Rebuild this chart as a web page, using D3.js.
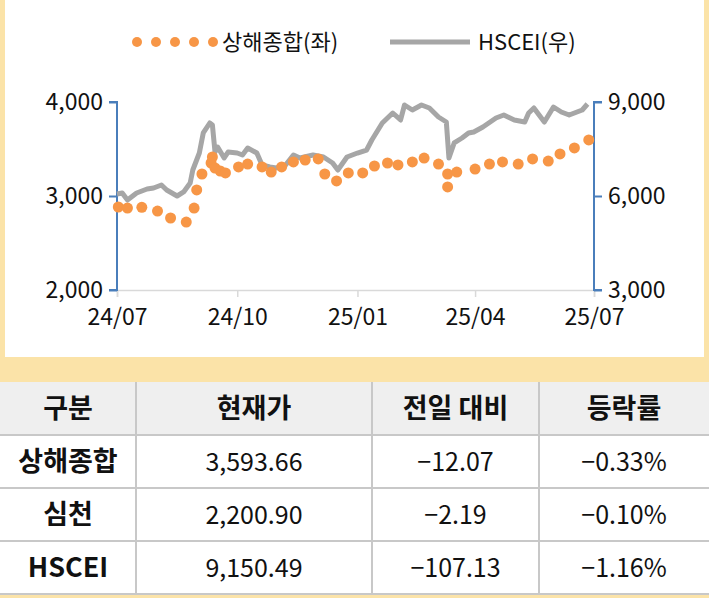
<!DOCTYPE html>
<html><head><meta charset="utf-8">
<script src="https://cdn.jsdelivr.net/npm/d3@7"></script>
<style>body{margin:0;background:#fbe3a8;font-family:"Noto Sans CJK KR","Noto Sans",sans-serif}</style>
</head><body>
<script>
// 상해종합 (weekly-ish dots), left axis
const shDates = ["2024-07-02","2024-07-09","2024-07-20","2024-08-01","2024-08-11","2024-08-23","2024-08-29","2024-08-31","2024-09-04","2024-09-11","2024-09-12","2024-09-14","2024-09-18","2024-09-22","2024-10-02","2024-10-09","2024-10-20","2024-10-27","2024-11-04","2024-11-13","2024-11-22","2024-12-02","2024-12-07","2024-12-16","2024-12-25","2025-01-05","2025-01-14","2025-01-24","2025-02-01","2025-02-12","2025-02-21","2025-03-04","2025-03-11","2025-03-11","2025-03-18","2025-04-01","2025-04-12","2025-04-22","2025-05-04","2025-05-15","2025-05-27","2025-06-05","2025-06-16","2025-06-27"];
const shValues = [2883,2872,2880,2840,2766,2723,2872,3064,3234,3351,3415,3298,3266,3245,3309,3340,3309,3255,3309,3362,3383,3394,3234,3160,3245,3245,3319,3351,3330,3362,3404,3340,3234,3096,3255,3287,3340,3362,3340,3394,3372,3447,3511,3596];
// HSCEI line, right axis (days since 2024-07-01)
const hsDays = [0,4,8,15,23,28,34,38,46,51,56,58,63,66,71,73,75,77,82,85,92,96,100,107,111,117,122,129,135,140,150,158,165,169,176,184,191,195,203,211,217,220,226,233,239,246,252,254,258,264,269,273,280,290,296,304,312,315,319,327,334,340,346,356,360];
const hsValues = [6064,6096,5872,6096,6223,6255,6351,6191,6000,6128,6415,6830,7372,8011,8330,8266,7404,7564,7213,7404,7372,7309,7532,7372,6989,6926,6894,6989,7309,7213,7309,7245,7053,6830,7245,7372,7468,7787,8330,8649,8426,8904,8745,8904,8808,8521,8362,7213,7692,7851,8011,8043,8202,8489,8585,8426,8362,8649,8808,8362,8840,8681,8585,8745,8936];
const xTicks = ["2024-07-01","2024-10-01","2025-01-01","2025-04-01","2025-07-01"];
const leftTicks = [2000,3000,4000], rightTicks = [3000,6000,9000];
const tableHead = ["구분","현재가","전일 대비","등락률"];
const tableRows = [["상해종합","3,593.66","-12.07","-0.33%"],["심천","2,200.90","-2.19","-0.10%"],["HSCEI","9,150.49","-107.13","-1.16%"]];

const W=709,H=598;
const svg=d3.select("body").append("svg").attr("width",W).attr("height",H);
svg.append("rect").attr("x",5).attr("y",0).attr("width",699).attr("height",357).attr("fill","#fff");
svg.append("rect").attr("x",0).attr("y",382).attr("width",709).attr("height",212).attr("fill","#fff");

const parse=d3.timeParse("%Y-%m-%d");
const t0=parse("2024-07-01");
const x=d3.scaleTime().domain([t0,parse("2025-07-01")]).range([117,594]);
const yL=d3.scaleLinear().domain([2000,4000]).range([290,102]);
const yR=d3.scaleLinear().domain([3000,9000]).range([290,102]);
const font="'Noto Sans CJK KR','Noto Sans',sans-serif";

// x axis
const gx=svg.append("g").attr("transform","translate(0,290)")
  .call(d3.axisBottom(x).tickValues(xTicks.map(parse)).tickFormat(d3.timeFormat("%y/%m")).tickSize(7).tickPadding(12));
gx.select(".domain").attr("stroke","#d9d9d9").attr("stroke-width",1.5);
gx.selectAll(".tick line").attr("stroke","#d9d9d9").attr("stroke-width",1.5);
gx.selectAll("text").attr("font-size",23).attr("font-family",font).attr("fill","#111");

const gl=svg.append("g").attr("transform","translate(117,0)")
  .call(d3.axisLeft(yL).tickValues(leftTicks).tickFormat(d3.format(",")).tickSize(8).tickPadding(6));
const gr=svg.append("g").attr("transform","translate(594,0)")
  .call(d3.axisRight(yR).tickValues(rightTicks).tickFormat(d3.format(",")).tickSize(8).tickPadding(6));
[gl,gr].forEach(g=>{
  g.select(".domain").attr("stroke","#4a7ebb").attr("stroke-width",2).attr("d",g===gl?"M-8,102H0V290H-8":"M8,102H0V290H8");
  g.selectAll(".tick line").attr("stroke","#4a7ebb").attr("stroke-width",2);
  g.selectAll("text").attr("font-size",23).attr("font-family",font).attr("fill","#111");
});

svg.append("path").datum(hsValues)
  .attr("fill","none").attr("stroke","#a6a6a6").attr("stroke-width",5).attr("stroke-linejoin","round")
  .attr("d",d3.line().x((d,i)=>x(d3.timeDay.offset(t0,hsDays[i]))).y(d=>yR(d)));

svg.selectAll("circle.sh").data(shValues).enter().append("circle")
  .attr("cx",(d,i)=>x(parse(shDates[i]))).attr("cy",d=>yL(d)).attr("r",5.5).attr("fill","#f79646");

// legend
const lg=svg.append("g");
lg.selectAll("circle").data(d3.range(5)).enter().append("circle")
  .attr("cx",d=>137+d*19).attr("cy",42).attr("r",5).attr("fill","#f79646");
lg.append("text").attr("x",222).attr("y",50).text("상해종합(좌)").attr("font-size",22).attr("font-family",font).attr("fill","#111");
lg.append("line").attr("x1",390).attr("x2",470).attr("y1",42).attr("y2",42).attr("stroke","#a6a6a6").attr("stroke-width",5);
lg.append("text").attr("x",478).attr("y",50).text("HSCEI(우)").attr("font-size",22).attr("font-family",font).attr("fill","#111");

// table
const colX=[0,136,372,539,709], rowY=[382,435,488,541,594];
svg.append("rect").attr("x",0).attr("y",382).attr("width",709).attr("height",53).attr("fill","#efefef");
rowY.slice(1).forEach(y=>svg.append("line").attr("x1",0).attr("x2",709).attr("y1",y).attr("y2",y).attr("stroke","#c8c8c8").attr("stroke-width",2));
colX.slice(1,4).forEach(cx=>svg.append("line").attr("x1",cx).attr("x2",cx).attr("y1",382).attr("y2",594).attr("stroke","#c8c8c8").attr("stroke-width",2));
const cellText=(t,i,r,bold)=>svg.append("text").attr("x",(colX[i]+colX[i+1])/2).attr("y",(rowY[r]+rowY[r+1])/2+9)
  .attr("text-anchor","middle").attr("font-size",i===0||r===0?27:25).attr("font-weight",bold?"bold":"normal")
  .attr("font-family",font).attr("fill","#111").text(t);
tableHead.forEach((t,i)=>cellText(t,i,0,true));
tableRows.forEach((row,r)=>row.forEach((t,i)=>cellText(t.replace("-","−"),i,r+1,i===0)));
</script>
</body></html>
